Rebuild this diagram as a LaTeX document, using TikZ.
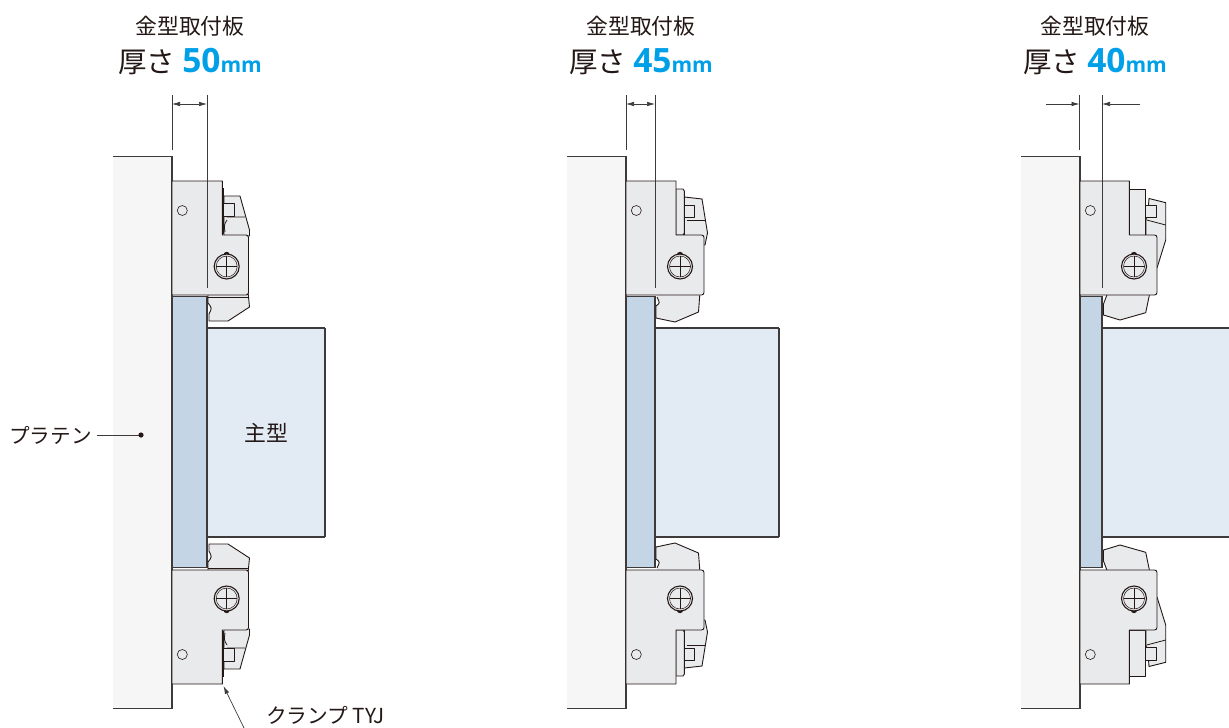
\documentclass[tikz,border=0pt]{standalone}
\usepackage{fontspec}
\setmainfont{Noto Sans CJK JP}
\newfontfamily\numfont{Open Sans}[BoldFont={Open Sans Bold}]
\usetikzlibrary{arrows.meta}
\definecolor{inkcol}{HTML}{3E3A39}
\definecolor{textcol}{HTML}{231815}
\definecolor{sizecol}{HTML}{00A0E9}
\definecolor{platencol}{HTML}{F6F6F6}
\definecolor{platecol}{HTML}{C4D5E5}
\definecolor{moldcol}{HTML}{E2EAF3}
\definecolor{clampcol}{HTML}{E9EAEC}
\tikzset{
  outline/.style={draw=inkcol,line width=1.3pt},
  part/.style={draw=textcol,line width=0.9pt,fill=clampcol,line join=round},
  detail/.style={draw=textcol,line width=0.8pt},
  dimline/.style={draw=inkcol,line width=0.7pt},
  caption/.style={text=textcol,inner sep=0pt,font=\fontsize{21.8}{22}\selectfont},
}
\newcommand{\sizelabel}[1]{{\fontsize{28.5}{28.5}\selectfont 厚さ}\hspace{7pt}{\color{sizecol}\numfont\bfseries\fontsize{33.5}{33.5}\selectfont #1\fontsize{21}{21}\selectfont mm}}
% body of a clamp: left, notch, right, screw
\newcommand{\clampbody}[4]{%
  \draw[part] (#1,181) -- (#2,181) -- (#2,235) {[rounded corners=2.5pt] -- (#3,235) -- (#3,295)} -- (#1,295) -- cycle;
  \begin{scope}[shift={(#4,266.5)}]
    \fill[textcol] (0,-11.5) circle [radius=3.2];
    \draw[part,line width=1.1pt] (0,0) circle [radius=12.5];
    \draw[detail,line width=0.5pt] (0,0) circle [radius=10.5];
    \draw[detail,line width=0.6pt] (-10.5,0) -- (10.5,0) (0,-10.5) -- (0,10.5);
  \end{scope}
  \draw[detail,line width=0.6pt] (#1+10.3,210.5) circle [radius=5];
}
\newcommand{\clampA}{%
  \draw[part] (208,292) -- (248,292) -- (249.5,307) -- (228,321) -- (209,321) -- (209,314) .. controls (212,308) .. (208,303) -- cycle;
  \draw[detail] (208,297) -- (248,297);
  \draw[part] (224,196) -- (240,196) -- (249.5,230) -- (249.5,236) -- (224,236) -- cycle;
  \draw[part] (224,203.5) -- (234,203.5) -- (234,216.5) -- (224,216.5);
  \draw[detail] (226.5,217) -- (245,217) (227,220) .. controls (224,225) .. (225,232);
  \draw[detail,line width=1.6pt] (223.5,188) -- (223.5,234);
  \clampbody{172}{222.3}{248.5}{226.7}
}
\newcommand{\clampB}{%
  \draw[part] (657,292) -- (700,292) -- (698.5,312) -- (675,322) -- (656,318) -- (656,306) .. controls (660,303) .. (657,297);
  \draw[part] (684.5,197) -- (702,199) -- (707.5,233) -- (705,245) -- (684.5,245) -- cycle;
  \draw[part] (685,205) -- (694,205) -- (694,217) -- (685,217);
  \draw[detail] (686.5,220) -- (705,220);
  \draw[part] (676,189) -- (683,189) -- (684.3,191) -- (684.3,233) -- (683,235) -- (676,235) -- cycle;
  \clampbody{626}{676}{704}{680}
}
\newcommand{\clampC}{%
  \draw[part] (1108,292) -- (1150,292) -- (1145.7,312.7) -- (1120,320) -- (1103.5,315) -- (1103.5,304) -- cycle;
  \draw[part] (1149,198.5) -- (1165.7,202.7) -- (1165.7,240) -- (1157,268) -- (1146,268) -- (1146,220) -- (1148.5,205) -- cycle;
  \draw[part] (1146,205) -- (1156,205) -- (1156,217.3) -- (1146,217.3);
  \draw[detail] (1146.7,220) -- (1165.7,225);
  \draw[part] (1129.3,189) -- (1145.3,189) -- (1145.3,235) -- (1129.3,235) -- cycle;
  \clampbody{1080}{1129.3}{1157}{1134}
}
\begin{document}
\begin{tikzpicture}[x=1pt,y=-1pt,>={Latex[length=8pt,width=4.5pt]}]
  \useasboundingbox (0,0) rectangle (1229,728);
  % Panels: platen, plate, mold, titles
\foreach \pl/\pr/\mr/\pn/\pc in {172/207/325/50/190, 626/655/779/45/641, 1080/1102/1229/40/1095} {
  \fill[platencol] (\pl-59,156.5) rectangle (\pl,708.5);
  \fill[moldcol] (\pr,328) rectangle (\mr,537);
  \draw[outline] (\mr,328) -- (\pr,328) -- (\pr,537) -- (\mr,537);
  \draw[outline,fill=platecol] (\pl,296.5) rectangle (\pr,567.5);
  \draw[outline] (\pl-59,156.5) -- (\pl,156.5) -- (\pl,708.5) -- (\pl-59,708.5);
  \node[caption] (title\pn) at (\pc,26) {金型取付板};
  \node[caption,anchor=base] (size\pn) at (\pc,72) {\sizelabel{\pn}};
}
  \draw[outline] (325,328) -- (325,537);
  \draw[outline] (779,328) -- (779,537);
  % Clamps, each also mirrored
\begin{scope}
  \clampA \clampB \clampC
\end{scope}
\begin{scope}[shift={(0,865)},yscale=-1]
  \clampA \clampB \clampC
\end{scope}
  % Dimension lines
\foreach \pn/\pl/\pr in {50/172/207, 45/626/655, 40/1079.5/1102} {
  \coordinate (low\pn) at (\pl,104);
  \coordinate (high\pn) at (\pr,104);
  \draw[dimline] (\pl,95) -- (\pl,150);
  \draw[dimline] (\pr,95) -- (\pr,288);
}
  \draw[dimline,<->] (low50) -- (high50);
  \draw[dimline,<->] (low45) -- (high45);
  \coordinate (outL) at (1046,104);
  \coordinate (outR) at (1140,104);
  \draw[dimline,->] (outL) -- (low40);
  \draw[dimline,->] (outR) -- (high40);
  % Labels
  \node[caption,font=\fontsize{20.6}{21}\selectfont,anchor=west] (platen) at (9,435) {プラテン};
  \coordinate (platendot) at (141,435);
  \draw[dimline] (platen.east) ++(5.5,0) -- (platendot);
  \fill[textcol] (platendot) circle [radius=2.6];
  \node[caption] (mold) at (266.5,433) {主型};
  \node[caption,font=\fontsize{20.7}{21}\selectfont,anchor=west] (clamp) at (266,715) {クランプ TYJ};
  \coordinate (clampfoot) at (244,728);
  \coordinate (clamptip) at (223.5,686);
  \draw[dimline,->] (clampfoot) -- (clamptip);
\end{tikzpicture}
\end{document}
